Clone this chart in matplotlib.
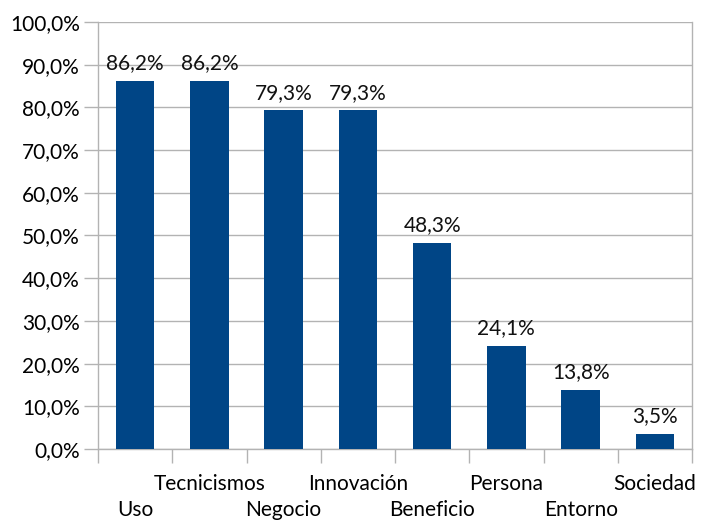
import numpy as np
import matplotlib.pyplot as plt
from matplotlib.ticker import FixedLocator

plt.rcParams['font.family'] = ['Lato', 'DejaVu Sans']

categorias = ["Uso", "Tecnicismos", "Negocio", "Innovación", "Beneficio",
              "Persona", "Entorno", "Sociedad"]
valores = [86.2, 86.2, 79.3, 79.3, 48.3, 24.1, 13.8, 3.5]

azul = "#004586"
gris = "#b3b3b3"
fs = 15

fig = plt.figure(figsize=(7.01, 5.21), dpi=100)
ax = fig.add_axes([98 / 701, 1 - 449 / 521, (692 - 98) / 701, (449 - 22) / 521])

x = np.arange(len(categorias))
bars = ax.bar(x, valores, width=0.52, color=azul, zorder=3)

for b, v in zip(bars, valores):
    ax.text(b.get_x() + b.get_width() / 2, v + 1.8, f"{v:.1f}%".replace(".", ","),
            ha="center", va="bottom", fontsize=fs, color="#111111")

ax.set_xlim(-0.5, len(categorias) - 0.5)
ax.set_ylim(0, 100)
ax.set_yticks(np.arange(0, 101, 10))
ax.yaxis.set_major_formatter(lambda v, p: f"{v:.1f}%".replace(".", ","))
ax.grid(axis="y", color=gris, linewidth=1, zorder=0)

ax.set_xticks(x)
ax.set_xticklabels(categorias, fontsize=fs)
ax.xaxis.set_minor_locator(FixedLocator(np.arange(-0.5, len(categorias), 1)))
ax.tick_params(axis="x", which="major", length=0)
ax.tick_params(axis="x", which="minor", length=10, color=gris, width=1)
ax.tick_params(axis="y", length=10, color=gris, width=1, labelsize=fs, pad=3)

# etiquetas escalonadas: pares abajo, impares arriba
for i, t in enumerate(ax.xaxis.get_major_ticks()):
    t.set_pad(51 * 0.72 if i % 2 == 0 else 25 * 0.72)

for side in ["left", "bottom", "right"]:
    ax.spines[side].set_color(gris)
    ax.spines[side].set_linewidth(1)
ax.spines["top"].set_visible(False)

fig.savefig("out.png", dpi=100)
